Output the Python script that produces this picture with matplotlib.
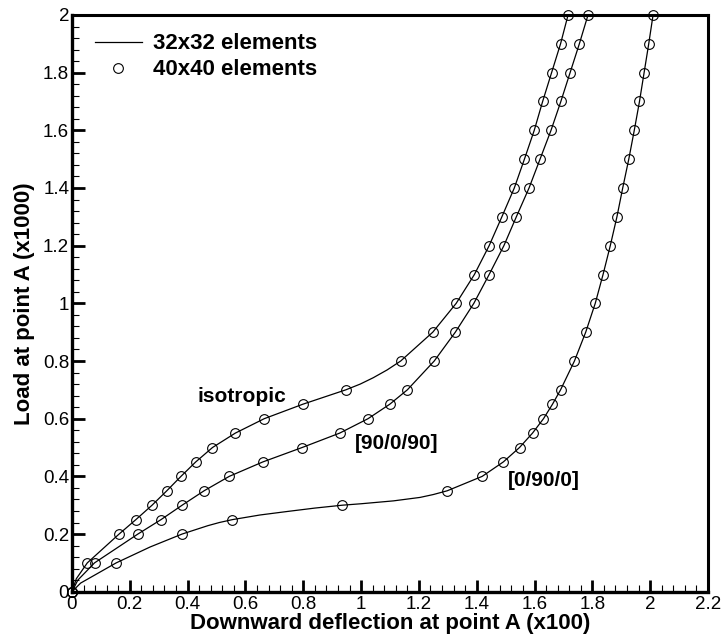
import matplotlib
matplotlib.use("Agg")
import matplotlib.pyplot as plt
from matplotlib.ticker import MultipleLocator
from matplotlib.lines import Line2D

plt.rcParams['font.family'] = ['Liberation Sans', 'DejaVu Sans']

# ---- data: 40x40 elements (circles) ----
load_pts = [0, 0.1, 0.2, 0.25, 0.3, 0.35, 0.4, 0.45, 0.5, 0.55, 0.6, 0.65, 0.7,
            0.8, 0.9, 1.0, 1.1, 1.2, 1.3, 1.4, 1.5, 1.6, 1.7, 1.8, 1.9, 2.0]
iso_defl = [0, 0.053, 0.163, 0.221, 0.277, 0.328, 0.377, 0.428, 0.486, 0.565, 0.665,
            0.798, 0.947, 1.137, 1.248, 1.329, 1.392, 1.443, 1.487, 1.530, 1.565,
            1.599, 1.628, 1.659, 1.690, 1.716]
lam90_defl = [0, 0.078, 0.228, 0.308, 0.381, 0.457, 0.544, 0.660, 0.796, 0.926, 1.024,
              1.099, 1.160, 1.253, 1.326, 1.390, 1.443, 1.494, 1.537, 1.581, 1.619,
              1.657, 1.691, 1.723, 1.755, 1.785]
lam0_defl = [0, 0.153, 0.381, 0.555, 0.935, 1.298, 1.419, 1.492, 1.548, 1.593, 1.631,
             1.662, 1.690, 1.738, 1.777, 1.810, 1.837, 1.862, 1.885, 1.905, 1.926,
             1.945, 1.963, 1.979, 1.995, 2.010]

# ---- data: 32x32 elements (solid lines) ----
iso_line_x = [0, 0.015, 0.053, 0.163, 0.221, 0.277, 0.328, 0.377, 0.428, 0.486, 0.565,
              0.665, 0.798, 0.947, 0.997, 1.042, 1.09, 1.137, 1.248, 1.329, 1.392, 1.443,
              1.487, 1.530, 1.565, 1.599, 1.628, 1.659, 1.690, 1.716]
iso_line_y = [0, 0.045, 0.1, 0.2, 0.25, 0.3, 0.35, 0.4, 0.45, 0.5, 0.55,
              0.6, 0.65, 0.7, 0.720, 0.742, 0.769, 0.8, 0.9, 1.0, 1.1, 1.2,
              1.3, 1.4, 1.5, 1.6, 1.7, 1.8, 1.9, 2.0]
lam90_line_x = [0, 0.02, 0.078, 0.228, 0.308, 0.381, 0.457, 0.544, 0.660, 0.796, 0.926,
                1.024, 1.099, 1.160, 1.253, 1.326, 1.390, 1.443, 1.494, 1.537, 1.581,
                1.619, 1.657, 1.691, 1.723, 1.755, 1.785]
lam90_line_y = [0, 0.04, 0.1, 0.2, 0.25, 0.3, 0.35, 0.4, 0.45, 0.5, 0.55,
                0.6, 0.65, 0.7, 0.8, 0.9, 1.0, 1.1, 1.2, 1.3, 1.4,
                1.5, 1.6, 1.7, 1.8, 1.9, 2.0]
lam0_line_x = [0, 0.03, 0.153, 0.27, 0.381, 0.43, 0.47, 0.51, 0.555, 0.65, 0.743, 0.84, 0.935, 1.0,
               1.112, 1.204, 1.25, 1.298, 1.419, 1.492, 1.548, 1.593, 1.631, 1.662, 1.690,
               1.738, 1.777, 1.810, 1.837, 1.862, 1.885, 1.905, 1.926, 1.945, 1.963,
               1.979, 1.995, 2.010]
lam0_line_y = [0, 0.03, 0.1, 0.155, 0.2, 0.216, 0.229, 0.240, 0.25, 0.266, 0.278, 0.290, 0.3, 0.305,
               0.315, 0.327, 0.337, 0.35, 0.4, 0.45, 0.5, 0.55, 0.6, 0.65, 0.7,
               0.8, 0.9, 1.0, 1.1, 1.2, 1.3, 1.4, 1.5, 1.6, 1.7,
               1.8, 1.9, 2.0]

legend_labels = ["32x32 elements", "40x40 elements"]
curve_labels = ["isotropic", "[90/0/90]", "[0/90/0]"]

fig = plt.figure(figsize=(7.22, 6.37), dpi=100)
ax = fig.add_axes([0.0997, 0.0711, 0.8809, 0.9054])

for lx, ly in [(iso_line_x, iso_line_y), (lam90_line_x, lam90_line_y), (lam0_line_x, lam0_line_y)]:
    ax.plot(lx, ly, color='black', lw=0.9, solid_joinstyle='round')
for px in [iso_defl, lam90_defl, lam0_defl]:
    ax.plot(px, load_pts, linestyle='none', marker='o', ms=7, mfc='none',
            mec='black', mew=0.8, clip_on=False, zorder=5)

ax.set_xlim(0, 2.2)
ax.set_ylim(0, 2.0)
ax.xaxis.set_major_locator(MultipleLocator(0.2))
ax.xaxis.set_minor_locator(MultipleLocator(0.04))
ax.yaxis.set_major_locator(MultipleLocator(0.2))
ax.yaxis.set_minor_locator(MultipleLocator(0.04))

def fmt(v, pos):
    s = ('%.1f' % v)
    if s.endswith('.0'):
        s = s[:-2]
    return s
ax.xaxis.set_major_formatter(plt.FuncFormatter(fmt))
ax.yaxis.set_major_formatter(plt.FuncFormatter(fmt))

ax.tick_params(which='both', direction='in', top=False, right=False, labelsize=13.5)
ax.tick_params(axis='x', pad=3)
ax.tick_params(axis='y', pad=2)
ax.tick_params(which='major', length=9, width=2)
ax.tick_params(which='minor', length=5, width=0.8)
ax.spines['left'].set_linewidth(2.4)
ax.spines['bottom'].set_linewidth(2.4)
ax.spines['top'].set_linewidth(2.2)
ax.spines['right'].set_linewidth(2.2)

ax.set_xlabel("Downward deflection at point A (x100)", fontsize=16, fontweight='bold', labelpad=0)
ax.set_ylabel("Load at point A (x1000)", fontsize=16, fontweight='bold', labelpad=6)

ax.text(0.587, 0.678, curve_labels[0], fontsize=15, fontweight='bold', ha='center', va='center')
ax.text(1.123, 0.514, curve_labels[1], fontsize=15, fontweight='bold', ha='center', va='center')
ax.text(1.631, 0.387, curve_labels[2], fontsize=15, fontweight='bold', ha='center', va='center')

handles = [Line2D([], [], color='black', lw=0.9),
           Line2D([], [], linestyle='none', marker='o', ms=7, mfc='none', mec='black', mew=0.8)]
ax.legend(handles, legend_labels, loc='upper left', bbox_to_anchor=(0.015, 0.991),
          frameon=False, prop={'size': 16, 'weight': 'bold'}, handlelength=2.1,
          handletextpad=0.5, labelspacing=0.22, borderaxespad=0.2)

fig.savefig("out.png", dpi=100)
